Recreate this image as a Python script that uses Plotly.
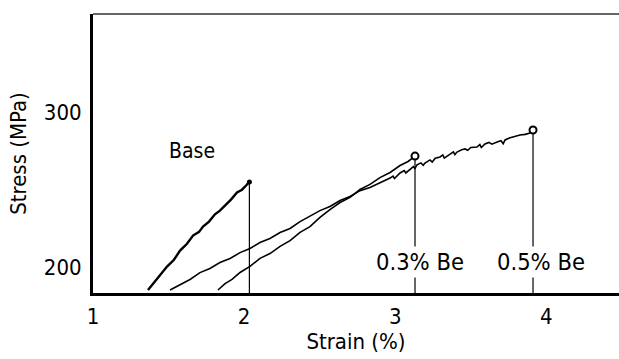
import plotly.graph_objects as go

# ---------------- data ----------------
base_strain = [1.364, 1.410, 1.450, 1.490, 1.536, 1.576, 1.622, 1.662, 1.702, 1.728,
               1.768, 1.807, 1.840, 1.880, 1.913, 1.953, 1.986, 2.013, 2.035]
base_stress = [185.5, 190.9, 195.3, 200.6, 205.0, 210.9, 215.3, 220.6, 223.0, 226.4,
               229.6, 234.3, 236.7, 240.6, 243.8, 248.4, 250.2, 252.9, 255.2]

be03_strain = [1.827, 1.874, 1.920, 1.973, 2.039, 2.105, 2.171, 2.238, 2.304, 2.370,
               2.436, 2.502, 2.568, 2.635, 2.701, 2.767, 2.833, 2.899, 2.966, 3.032,
               3.085, 3.131]
be03_stress = [185.5, 189.6, 192.3, 196.8, 200.7, 205.9, 209.0, 213.6, 217.3, 222.7,
               226.4, 232.3, 237.4, 241.9, 245.2, 250.3, 253.6, 258.0, 261.3, 265.8,
               268.4, 271.9]

be05_strain = [1.510, 1.576, 1.642, 1.708, 1.774, 1.840, 1.907, 1.973, 2.039, 2.105,
               2.171, 2.238, 2.304, 2.370, 2.436, 2.502, 2.568, 2.635, 2.701, 2.767,
               2.833, 2.899, 2.966, 2.985, 2.995, 3.032, 3.060, 3.070, 3.098, 3.120,
               3.130, 3.144, 3.170, 3.185, 3.197, 3.230, 3.245, 3.265, 3.297, 3.315,
               3.325, 3.363, 3.385, 3.395, 3.409, 3.440, 3.462, 3.480, 3.500, 3.541,
               3.560, 3.570, 3.594, 3.620, 3.640, 3.674, 3.700, 3.715, 3.727, 3.755,
               3.780, 3.800, 3.826, 3.860, 3.892, 3.905, 3.912]
be05_stress = [185.5, 188.9, 192.3, 196.7, 199.4, 203.2, 205.8, 209.6, 212.3, 216.1,
               218.7, 222.6, 225.2, 229.6, 232.9, 236.7, 239.4, 243.2, 245.8, 249.6,
               251.6, 254.5, 257.7, 259.0, 257.4, 261.0, 262.5, 261.0, 263.6, 265.1,
               263.8, 266.2, 267.5, 265.9, 267.4, 269.4, 268.0, 270.5, 271.3, 272.6,
               270.6, 273.2, 274.6, 272.9, 274.5, 276.0, 276.5, 275.6, 277.4, 277.7,
               279.3, 277.4, 279.7, 280.7, 279.6, 281.0, 281.8, 279.9, 282.3, 283.5,
               284.2, 284.6, 285.5, 285.9, 286.8, 288.2, 288.7]

curve_labels = ["Base", "0.3% Be", "0.5% Be"]
x_ticks = [1, 2, 3, 4]
y_ticks = [200, 300]
x_range = [1.0, 4.481]
y_range = [183.55, 363.55]

FONT = "DejaVu Sans Condensed, DejaVu Sans, sans-serif"

fig = go.Figure()

fig.add_trace(go.Scatter(x=base_strain, y=base_stress, mode="lines",
                         line=dict(color="black", width=2.4), showlegend=False))
fig.add_trace(go.Scatter(x=be03_strain, y=be03_stress, mode="lines",
                         line=dict(color="black", width=1.6), showlegend=False))
fig.add_trace(go.Scatter(x=be05_strain, y=be05_stress, mode="lines",
                         line=dict(color="black", width=1.6), showlegend=False))

# fracture markers
fig.add_trace(go.Scatter(x=[base_strain[-1]], y=[base_stress[-1]], mode="markers",
                         marker=dict(symbol="circle", size=5, color="black"),
                         showlegend=False))
fig.add_trace(go.Scatter(x=[be03_strain[-1], be05_strain[-1]],
                         y=[be03_stress[-1], be05_stress[-1]], mode="markers",
                         marker=dict(symbol="circle", size=7, color="white",
                                     line=dict(color="black", width=2)),
                         showlegend=False))

# vertical drop lines at fracture
for xs, ys in [(base_strain, base_stress), (be03_strain, be03_stress), (be05_strain, be05_stress)]:
    fig.add_shape(type="line", x0=xs[-1], x1=xs[-1], y0=ys[-1], y1=y_range[0],
                  xref="x", yref="y", line=dict(color="black", width=1.2), layer="below")

# top frame line
fig.add_shape(type="line", xref="paper", yref="paper", x0=0, x1=1, y0=1, y1=1,
              line=dict(color="#333333", width=1.5))

# labels
fig.add_annotation(x=1.655, y=275.2, text=curve_labels[0], showarrow=False,
                   font=dict(family=FONT, size=21, color="black"))
fig.add_annotation(x=3.164, y=203.5, text=curve_labels[1], showarrow=False,
                   bgcolor="white", borderpad=1,
                   font=dict(family=FONT, size=23.5, color="black"))
fig.add_annotation(x=3.965, y=203.5, text=curve_labels[2], showarrow=False,
                   bgcolor="white", borderpad=1,
                   font=dict(family=FONT, size=23.5, color="black"))

fig.update_layout(
    width=619, height=359,
    margin=dict(l=93, r=0, t=14, b=66),
    paper_bgcolor="white", plot_bgcolor="white",
    font=dict(family=FONT, size=22, color="black"),
    xaxis=dict(range=x_range, tickvals=x_ticks, ticktext=[str(v) for v in x_ticks],
               showgrid=False, zeroline=False, showline=True, linecolor="black",
               linewidth=2.5, ticks="", ticklabelstandoff=2, automargin=False,
               title=dict(text="Strain (%)", standoff=1,
                          font=dict(family=FONT, size=22))),
    yaxis=dict(range=y_range, tickvals=y_ticks, ticktext=[str(v) for v in y_ticks],
               showgrid=False, zeroline=False, showline=True, linecolor="black",
               linewidth=3, ticks="", ticklabelstandoff=4, automargin=False,
               title=dict(text="Stress (MPa)", standoff=12,
                          font=dict(family=FONT, size=22))),
)

# place the figure at the page's top-left corner (no default body margin / scrollbars)
fig.write_html(
    "out.html",
    config={"displayModeBar": False},
    post_script="document.body.style.margin='0';"
                "document.documentElement.style.overflow='hidden';",
)
